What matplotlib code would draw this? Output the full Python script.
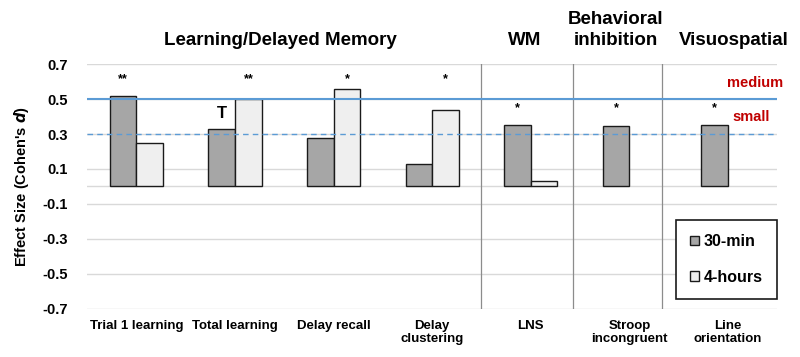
import numpy as np
import matplotlib.pyplot as plt
from matplotlib.patches import Patch

plt.rcParams['font.family'] = ['Liberation Sans', 'DejaVu Sans']

categories = ['Trial 1 learning', 'Total learning', 'Delay recall', 'Delay\nclustering',
              'LNS', 'Stroop\nincongruent', 'Line\norientation']
min30 = [0.52, 0.33, 0.28, 0.13, 0.35, 0.345, 0.35]
hours4 = [0.25, 0.50, 0.56, 0.44, 0.03, np.nan, np.nan]
yticks = [0.7, 0.5, 0.3, 0.1, -0.1, -0.3, -0.5, -0.7]

# significance marks: (category index, series offset, y, text)
marks = [(0, -1, 0.615, '**'), (1, 1, 0.615, '**'), (2, 1, 0.615, '*'), (3, 1, 0.615, '*'),
         (4, -1, 0.445, '*'), (5, -1, 0.445, '*'), (6, -1, 0.445, '*')]
groups = [(1.457, 'Learning/Delayed Memory'), (3.94, 'WM'),
          (4.865, 'Behavioral\ninhibition'), (6.06, 'Visuospatial')]
separators = [3.5, 4.43, 5.33]

fig = plt.figure(figsize=(8, 3.57), dpi=100)
ax = fig.add_axes([0.109, 0.1345, 0.8625, 0.6862])

x = np.arange(len(categories))
w = 0.27
ax.bar(x - w / 2, min30, w, color='#A6A6A6', edgecolor='#1a1a1a', linewidth=1.0, zorder=3)
ax.bar(x + w / 2, hours4, w, color='#EFEFEF', edgecolor='#1a1a1a', linewidth=1.0, zorder=3)

ax.set_xlim(-0.5, 6.5)
ax.set_ylim(-0.7, 0.7)
ax.set_yticks(yticks)
ax.set_yticklabels([f'{t:.1f}' for t in yticks], fontsize=10.5, fontweight='bold')
ax.set_xticks(x)
ax.set_xticklabels(categories, fontsize=9.5, fontweight='bold', linespacing=1.1)
ax.tick_params(length=0, pad=8)
ax.tick_params(axis='y', pad=14)
for s in ax.spines.values():
    s.set_visible(False)
ax.yaxis.grid(True, color='#D9D9D9', linewidth=1.0, zorder=0)
ax.axhline(0, color='#D9D9D9', linewidth=1.0, zorder=1)

ax.set_ylabel("Effect Size (Cohen's $\\bfit{d}$)", fontsize=10.5, fontweight='bold', labelpad=8)

# effect size reference lines
ax.axhline(0.5, color='#5B9BD5', linewidth=1.5, zorder=4)
ax.axhline(0.3, color='#5B9BD5', linewidth=1.0, linestyle=(0, (4, 3)), zorder=4)
ax.text(6.56, 0.59, 'medium', color='#C00000', fontsize=10.5, fontweight='bold',
        ha='right', va='center', clip_on=False)
ax.text(6.43, 0.40, 'small', color='#C00000', fontsize=10.5, fontweight='bold',
        ha='right', va='center')

for sx in separators:
    ax.axvline(sx, color='#8C8C8C', linewidth=0.9, zorder=2)

for i, side, y, t in marks:
    ax.text(i + side * w / 2, y, t, ha='center', va='center', fontsize=9, fontweight='bold')
ax.text(1 - w / 2, 0.42, 'T', ha='center', va='center', fontsize=12, fontweight='bold')

for gx, label in groups:
    ax.text(gx, 0.785, label, ha='center', va='bottom', fontsize=13.5, fontweight='bold',
            linespacing=1.3)

handles = [Patch(facecolor='#A6A6A6', edgecolor='#1a1a1a', label='30-min'),
           Patch(facecolor='#EFEFEF', edgecolor='#1a1a1a', label='4-hours')]
leg = ax.legend(handles=handles, loc='lower right', bbox_to_anchor=(1.0, 0.04),
                frameon=True, fancybox=False, edgecolor='#1a1a1a', framealpha=1,
                prop={'weight': 'bold', 'size': 11.5}, handlelength=0.55, handleheight=0.55,
                handletextpad=0.3, labelspacing=1.3, borderpad=0.9, borderaxespad=0)
leg.get_frame().set_linewidth(1.2)
leg.set_zorder(5)

fig.savefig('out.png', dpi=100)
